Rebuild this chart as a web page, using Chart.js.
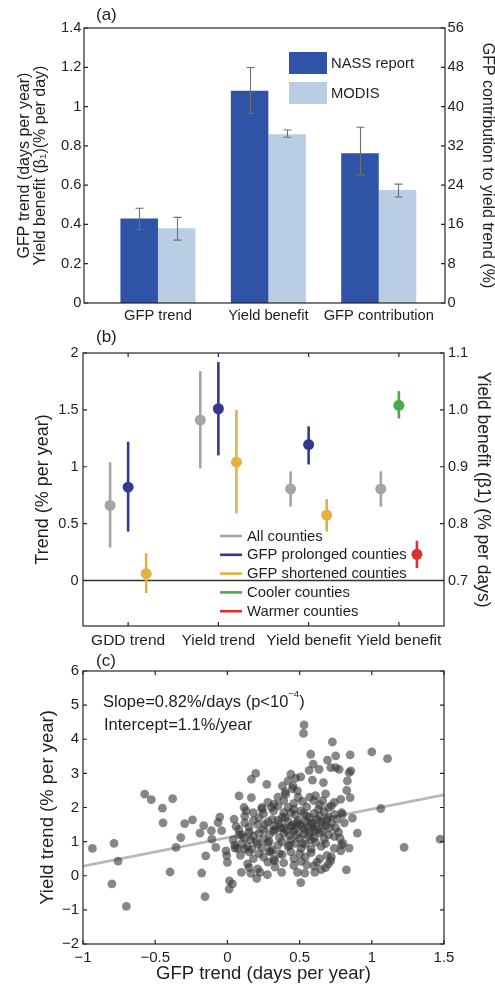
<!DOCTYPE html>
<html><head><meta charset="utf-8">
<script src="https://cdn.jsdelivr.net/npm/chart.js@4.4.1/dist/chart.umd.min.js"></script>
<style>
html,body{margin:0;padding:0;background:#fff;}
body{width:495px;height:986px;position:relative;overflow:hidden;}
.p{position:absolute;left:0;width:495px;}
.p canvas{display:block;}
</style></head><body>
<div class="p" style="top:0;height:335px"><canvas id="ca" width="495" height="335"></canvas></div>
<div class="p" style="top:325px;height:335px"><canvas id="cb" width="495" height="335"></canvas></div>
<div class="p" style="top:650px;height:336px"><canvas id="cc" width="495" height="336"></canvas></div>
<script>
// ---------------- DATA ----------------
// Panel (a)
const catA = ['GFP trend', 'Yield benefit', 'GFP contribution'];
const onRightA = [false, false, true];           // GFP contribution is read on right axis (%)
const nassA = [0.43, 1.08, 30.5];
const nassLowA = [0.374, 0.966, 26.1];
const nassHighA = [0.482, 1.199, 35.8];
const modisA = [0.38, 0.859, 23.0];
const modisLowA = [0.32, 0.844, 21.6];
const modisHighA = [0.436, 0.881, 24.2];
const leftTicksA = [0, 0.2, 0.4, 0.6, 0.8, 1, 1.2, 1.4];
const rightTicksA = [0, 8, 16, 24, 32, 40, 48, 56];

// Panel (b)
const catB = ['GDD trend', 'Yield trend', 'Yield benefit', 'Yield benefit'];
const axisB = ['y', 'y', 'y2', 'y2'];            // groups 3,4 read on right axis
const allVal = [0.66, 1.41, 0.861, 0.861];
const allLo = [0.29, 0.985, 0.83, 0.83];
const allHi = [1.04, 1.84, 0.892, 0.892];
const prolVal = [0.82, 1.51, 0.939, null];
const prolLo = [0.43, 1.10, 0.904, null];
const prolHi = [1.22, 1.92, 0.971, null];
const shortVal = [0.06, 1.04, 0.815, null];
const shortLo = [-0.11, 0.59, 0.786, null];
const shortHi = [0.24, 1.50, 0.843, null];
const coolVal = [null, null, null, 1.008];
const coolLo = [null, null, null, 0.985];
const coolHi = [null, null, null, 1.033];
const warmVal = [null, null, null, 0.746];
const warmLo = [null, null, null, 0.722];
const warmHi = [null, null, null, 0.770];
const leftTicksB = [0, 0.5, 1, 1.5, 2];
const rightTicksB = [0.7, 0.8, 0.9, 1.0, 1.1];

// Panel (c): [GFP trend (days/yr), Yield trend (%/yr)] per county
const countyTrends = [
[-0.935,0.80],[-0.785,0.95],[-0.757,0.43],[-0.80,-0.24],[-0.70,-0.90],[-0.573,2.39],[-0.527,2.23],[-0.379,2.26],[-0.45,1.98],[-0.446,1.55],
[-0.397,0.11],[-0.356,0.83],[-0.323,1.12],[-0.296,1.53],[-0.242,1.64],[-0.178,0.08],[-0.164,1.47],[-0.15,0.58],[-0.155,-0.61],[-0.19,1.25],
[-0.111,1.32],[-0.108,1.07],[-0.053,1.72],[-0.065,1.56],[-0.08,0.83],[-0.04,1.32],[-0.005,0.59],[0.0,0.39],[0.014,-0.15],[0.035,-0.24],
[0.012,-0.39],[-0.01,0.73],[0.046,1.66],[0.053,0.81],[0.081,2.34],[0.097,0.10],[0.115,2.0],[0.13,1.9],[0.15,0.24],[0.162,0.07],
[0.166,2.29],[0.166,2.83],[0.196,3.0],[0.203,-0.08],[0.226,0.10],[0.238,2.0],[0.273,2.68],[0.277,0.03],[0.305,2.0],[0.323,2.1],
[0.328,0.44],[0.376,0.10],[0.381,2.63],[0.404,2.39],[0.42,2.78],[0.439,2.98],[0.455,2.63],[0.473,2.86],[0.485,2.49],[0.508,2.9],
[0.531,4.42],[0.527,4.17],[0.508,-0.20],[0.536,0.08],[0.485,0.10],[0.577,3.56],[0.566,3.09],[0.594,3.27],[0.589,2.8],[0.635,3.12],
[0.665,2.73],[0.60,0.29],[0.605,0.10],[0.727,3.92],[0.693,3.39],[0.75,3.51],[0.716,3.17],[0.75,3.17],[0.774,3.12],[0.85,3.54],
[0.843,3.02],[0.855,3.07],[0.831,2.78],[0.827,2.5],[0.85,2.29],[0.785,2.24],[0.866,1.69],[0.90,1.25],[0.797,1.8],[0.843,0.81],
[0.824,0.17],[0.785,0.73],[0.716,0.44],[0.68,0.24],[1.0,3.63],[1.109,3.43],[1.062,1.97],[1.224,0.83],[1.473,1.07],
[0.28,2.15],[0.35,2.05],[0.39,2.2],[0.42,2.0],[0.46,2.12],[0.52,2.18],[0.55,2.02],[0.60,2.2],[0.64,2.08],[0.66,2.2],[0.70,2.0],[0.74,2.15],
[0.12,1.75],[0.18,1.85],[0.22,1.7],[0.25,1.82],[0.32,1.9],[0.38,1.72],[0.44,1.85],[0.47,1.78],[0.51,1.9],[0.57,1.7],[0.60,1.83],[0.64,1.75],[0.67,1.88],[0.70,1.72],[0.74,1.8],[0.79,1.85],
[0.06,1.45],[0.12,1.55],[0.15,1.42],[0.21,1.5],[0.28,1.58],[0.32,1.45],[0.36,1.52],[0.39,1.4],[0.42,1.6],[0.45,1.48],[0.48,1.55],[0.52,1.42],[0.54,1.6],[0.58,1.5],[0.61,1.44],[0.65,1.58],[0.68,1.47],[0.72,1.55],[0.75,1.4],
[0.08,1.2],[0.12,1.1],[0.15,1.28],[0.18,1.15],[0.22,1.25],[0.25,1.08],[0.29,1.2],[0.32,1.3],[0.36,1.12],[0.39,1.25],[0.43,1.18],[0.46,1.3],[0.50,1.1],[0.53,1.22],[0.57,1.28],[0.60,1.12],[0.64,1.25],[0.67,1.08],[0.70,1.2],[0.74,1.15],[0.77,1.28],
[0.05,0.9],[0.07,0.8],[0.10,0.95],[0.14,0.85],[0.17,0.78],[0.21,0.92],[0.24,0.82],[0.28,0.97],[0.31,0.76],[0.35,0.9],[0.42,0.85],[0.47,0.95],[0.51,0.8],[0.54,0.92],[0.58,0.78],[0.61,0.98],[0.65,0.86],[0.68,0.94],[0.74,0.8],[0.79,0.9],
[0.09,0.6],[0.15,0.7],[0.18,0.5],[0.22,0.65],[0.25,0.55],[0.29,0.72],[0.32,0.48],[0.38,0.62],[0.44,0.7],[0.46,0.5],[0.50,0.65],[0.54,0.55],[0.58,0.68],[0.64,0.5],[0.69,0.6],
[0.14,0.35],[0.21,0.2],[0.28,0.4],[0.33,0.25],[0.39,0.38],[0.46,0.3],[0.51,0.42],[0.65,0.18],[0.70,0.35],
[0.33,1.35],[0.37,1.4],[0.41,1.32],[0.44,1.45],[0.47,1.38],[0.5,1.5],[0.53,1.35],[0.56,1.42],[0.59,1.55],[0.62,1.35],[0.66,1.5],[0.69,1.65],
[0.35,1.62],[0.4,1.7],[0.55,1.75],[0.62,1.65],[0.48,1.2],[0.58,1.05],[0.52,0.95],[0.44,1.05],[0.2,1.0],[0.16,1.05],[0.1,1.2],[0.25,1.35],
[0.29,1.0],[0.63,1.95],[0.57,2.3],[0.61,2.35],[0.49,2.3],[0.45,2.55],[0.4,2.45],[0.35,2.3],[0.68,2.4],[0.72,2.05],[0.76,1.65],[0.81,1.55],
[0.78,1.1],[0.8,0.95],[0.72,0.55],[0.62,0.4],[0.55,0.32],[0.3,0.7],[0.36,0.65],[0.12,0.78],[0.08,1.35],[0.04,1.05],[0.18,1.62],[0.26,1.5],
[0.24,1.95],[0.66,1.3],[0.71,1.4],[0.43,0.9],[0.38,1.0],[0.56,1.15],[0.6,1.3],[0.49,1.62],[0.53,1.82],[0.46,1.95],[0.39,1.85],[0.31,1.65]
];
const fitLineX = [-1, 1.5];
const fitLineY = [0.28, 2.37];
const xTicksC = [-1, -0.5, 0, 0.5, 1, 1.5];
const yTicksC = [-2, -1, 0, 1, 2, 3, 4, 5, 6];

// ---------------- HELPERS ----------------
const FONT = "'Liberation Sans', Arial, Helvetica, sans-serif";
Chart.defaults.font.family = FONT;
Chart.defaults.color = '#1e1e1e';
Chart.defaults.animation = false;
const minus = v => (v < 0 ? '\u2212' + Math.abs(v) : String(v));
const setTicks = arr => (s) => { s.ticks = arr.map(v => ({value: v})); };
const noGrid = {display: false, drawTicks: false, offset: false};
const noBorder = {display: false};

const framePlugin = {
  id: 'frame',
  afterDraw(chart, args, o) {
    const {ctx, chartArea: a} = chart;
    const tl = o.tick || 4;
    ctx.save();
    ctx.strokeStyle = '#262626';
    ctx.lineWidth = 1.2;
    ctx.beginPath();
    ['left', 'right'].forEach(side => {
      const id = o[side]; if (!id) return;
      const sc = chart.scales[id];
      sc.ticks.forEach(t => {
        const py = sc.getPixelForValue(t.value);
        if (py < a.top - 1 || py > a.bottom + 1) return;
        const x0 = side === 'left' ? a.left : a.right;
        ctx.moveTo(x0, py); ctx.lineTo(x0 + (side === 'left' ? tl : -tl), py);
      });
    });
    ['top', 'bottom'].forEach(side => {
      const id = o[side]; if (!id) return;
      const sc = chart.scales[id];
      sc.ticks.forEach(t => {
        const px = sc.getPixelForValue(t.value);
        if (px < a.left - 1 || px > a.right + 1) return;
        const y0 = side === 'top' ? a.top : a.bottom;
        ctx.moveTo(px, y0); ctx.lineTo(px, y0 + (side === 'top' ? tl : -tl));
      });
    });
    ctx.stroke();
    ctx.strokeRect(a.left, a.top, a.right - a.left, a.bottom - a.top);
    ctx.restore();
  }
};

const textPlugin = {
  id: 'texts',
  afterDraw(chart, args, o) {
    const ctx = chart.ctx;
    ctx.save();
    ctx.fillStyle = '#1e1e1e';
    ctx.textBaseline = 'middle';
    (o.items || []).forEach(it => {
      let x = it.x;
      (it.parts || [{t: it.t}]).forEach(p => {
        const size = p.size || it.size;
        ctx.font = size + 'px ' + FONT;
        ctx.textAlign = 'left';
        ctx.fillText(p.t, x, it.y + (p.dy || 0));
        x += ctx.measureText(p.t).width + (p.gap || 0);
      });
    });
    ctx.restore();
  }
};

// ---------------- PANEL (a) ----------------
const ratioA = leftTicksA[leftTicksA.length - 1] / rightTicksA[rightTicksA.length - 1];
const toLeftA = (v, i) => (onRightA[i] ? v * ratioA : v);

const errAPlugin = {
  id: 'errA',
  afterDatasetsDraw(chart) {
    const {ctx} = chart; const y = chart.scales.y;
    ctx.save(); ctx.strokeStyle = '#707070'; ctx.lineWidth = 1.1;
    chart.data.datasets.forEach((ds, di) => {
      const meta = chart.getDatasetMeta(di);
      ds.errLow.forEach((lo, i) => {
        const el = meta.data[i]; if (!el) return;
        const x = Math.round(el.x) + 0.5;
        const y1 = y.getPixelForValue(toLeftA(lo, i));
        const y2 = y.getPixelForValue(toLeftA(ds.errHigh[i], i));
        ctx.beginPath();
        ctx.moveTo(x, y1); ctx.lineTo(x, y2);
        ctx.moveTo(x - 4, y1); ctx.lineTo(x + 4, y1);
        ctx.moveTo(x - 4, y2); ctx.lineTo(x + 4, y2);
        ctx.stroke();
      });
    });
    ctx.restore();
  }
};

const legendAPlugin = {
  id: 'legA',
  afterDraw(chart) {
    const {ctx} = chart;
    ctx.save();
    const items = chart.data.datasets;
    items.forEach((ds, i) => {
      const y = 52 + i * 30;
      ctx.fillStyle = ds.backgroundColor;
      ctx.fillRect(289, y, 38, 22);
      ctx.fillStyle = '#1e1e1e';
      ctx.font = '14.8px ' + FONT;
      ctx.textBaseline = 'middle';
      ctx.fillText(ds.label, 331, y + 11.5);
    });
    ctx.restore();
  }
};

new Chart(document.getElementById('ca'), {
  type: 'bar',
  data: {
    datasets: [
      {label: 'NASS report', data: catA.map((c, i) => ({x: i + 1, y: toLeftA(nassA[i], i)})),
       errLow: nassLowA, errHigh: nassHighA, backgroundColor: '#2f53a6', barPercentage: 1, categoryPercentage: 0.68},
      {label: 'MODIS', data: catA.map((c, i) => ({x: i + 1, y: toLeftA(modisA[i], i)})),
       errLow: modisLowA, errHigh: modisHighA, backgroundColor: '#b9cde5', barPercentage: 1, categoryPercentage: 0.68}
    ]
  },
  options: {
    responsive: false, animation: false,
    layout: {padding: {top: 28, right: 0, bottom: 0, left: 0}},
    plugins: {legend: {display: false}, tooltip: {enabled: false},
      frame: {left: 'y', right: 'y2', tick: 4},
      texts: {items: [{t: '(a)', x: 96, y: 15, size: 17}]}},
    scales: {
      x: {type: 'linear', offset: false, min: 0.33, max: 3.6, afterBuildTicks: setTicks(catA.map((c, i) => i + 1)),
          ticks: {callback: v => catA[v - 1], font: {size: 14.7}, padding: 4, maxRotation: 0, autoSkip: false},
          grid: noGrid, border: noBorder, afterFit: s => { s.height = 32; }},
      y: {position: 'left', min: 0, max: 1.4, afterBuildTicks: setTicks(leftTicksA),
          ticks: {callback: v => String(Math.round(v * 10) / 10), font: {size: 14.7}, padding: 2.5},
          grid: noGrid, border: noBorder,
          title: {display: true, text: ['GFP trend (days per year)', 'Yield benefit (\u03b2\u2081)(% per day)'],
                  font: {size: 16, lineHeight: 1}, padding: {top: 17, bottom: 0}},
          afterFit: s => { s.width = 84; }},
      y2: {position: 'right', min: 0, max: 56, afterBuildTicks: setTicks(rightTicksA),
          ticks: {callback: v => String(v), font: {size: 14.7}, padding: 2.5},
          grid: noGrid, border: noBorder,
          title: {display: true, text: 'GFP contribution to yield trend (%)', font: {size: 16, lineHeight: 1}, padding: {top: 0, bottom: 0}},
          afterFit: s => { s.width = 50; }}
    }
  },
  plugins: [errAPlugin, framePlugin, legendAPlugin, textPlugin]
});

// ---------------- PANEL (b) ----------------
const seriesB = [
  {name: 'All counties', color: '#a5a5a5', slot: [-1, -1, -1, -1], v: allVal, lo: allLo, hi: allHi},
  {name: 'GFP prolonged counties', color: '#333a8d', slot: [0, 0, 0, 0], v: prolVal, lo: prolLo, hi: prolHi},
  {name: 'GFP shortened counties', color: '#e4b23c', slot: [1, 1, 1, 1], v: shortVal, lo: shortLo, hi: shortHi},
  {name: 'Cooler counties', color: '#4caa4c', slot: [0, 0, 0, 0], v: coolVal, lo: coolLo, hi: coolHi},
  {name: 'Warmer counties', color: '#da3030', slot: [1, 1, 1, 1], v: warmVal, lo: warmLo, hi: warmHi}
];
const SLOT = 0.2;
const datasetsB = [];
seriesB.forEach(s => {
  ['y', 'y2'].forEach(ax => {
    const pts = [];
    s.v.forEach((val, g) => {
      if (val === null || axisB[g] !== ax) return;
      pts.push({x: g + 1 + s.slot[g] * SLOT, y: val, lo: s.lo[g], hi: s.hi[g]});
    });
    if (pts.length) datasetsB.push({label: s.name, data: pts, yAxisID: ax, backgroundColor: s.color,
      errColor: s.color, pointRadius: 5.5, pointHoverRadius: 5.5, borderWidth: 0});
  });
});

const errBPlugin = {
  id: 'errB',
  beforeDatasetsDraw(chart) {
    const {ctx, chartArea: a} = chart;
    ctx.save();
    const y0 = chart.scales.y.getPixelForValue(0);
    ctx.strokeStyle = '#333'; ctx.lineWidth = 1.3;
    ctx.beginPath(); ctx.moveTo(a.left, y0); ctx.lineTo(a.right, y0); ctx.stroke();
    ctx.lineWidth = 2.6; ctx.lineCap = 'butt';
    chart.data.datasets.forEach((ds, di) => {
      const meta = chart.getDatasetMeta(di);
      const sc = chart.scales[ds.yAxisID];
      ds.data.forEach((p, i) => {
        const el = meta.data[i]; if (!el) return;
        ctx.strokeStyle = ds.errColor;
        ctx.beginPath();
        ctx.moveTo(el.x, sc.getPixelForValue(p.lo));
        ctx.lineTo(el.x, sc.getPixelForValue(p.hi));
        ctx.stroke();
      });
    });
    ctx.restore();
  }
};

const legendBPlugin = {
  id: 'legB',
  afterDraw(chart) {
    const {ctx} = chart;
    ctx.save();
    seriesB.forEach((s, i) => {
      const y = 211 + i * 18.8;
      ctx.strokeStyle = s.color; ctx.lineWidth = 2.6;
      ctx.beginPath(); ctx.moveTo(220, y); ctx.lineTo(242, y); ctx.stroke();
      ctx.fillStyle = '#1e1e1e';
      ctx.font = '14.8px ' + FONT;
      ctx.textBaseline = 'middle';
      ctx.fillText(s.name, 247, y + 0.5);
    });
    ctx.restore();
  }
};

new Chart(document.getElementById('cb'), {
  type: 'scatter',
  data: {datasets: datasetsB},
  options: {
    responsive: false, animation: false,
    layout: {padding: {top: 28, right: 0, bottom: 0, left: 0}},
    plugins: {legend: {display: false}, tooltip: {enabled: false},
      frame: {left: 'y', right: 'y2', top: 'x', bottom: 'x', tick: 4},
      texts: {items: [{t: '(b)', x: 96, y: 12, size: 17}]}},
    scales: {
      x: {type: 'linear', offset: false, min: 0.5, max: 4.5, afterBuildTicks: setTicks(catB.map((c, i) => i + 1)),
          ticks: {callback: v => catB[v - 1], font: {size: 15.5}, padding: 5, maxRotation: 0, autoSkip: false},
          grid: noGrid, border: noBorder, afterFit: s => { s.height = 34; }},
      y: {position: 'left', min: -0.4, max: 2, afterBuildTicks: setTicks(leftTicksB),
          ticks: {callback: v => String(v), font: {size: 14.5}, padding: 4.5},
          grid: noGrid, border: noBorder,
          title: {display: true, text: 'Trend (% per year)', font: {size: 18, lineHeight: 1}, padding: {top: 34, bottom: 0}},
          afterFit: s => { s.width = 83; }},
      y2: {position: 'right', min: 0.62, max: 1.1, afterBuildTicks: setTicks(rightTicksB),
          ticks: {callback: v => v.toFixed(1), font: {size: 14.5}, padding: 4},
          grid: noGrid, border: noBorder,
          title: {display: true, text: 'Yield benefit (\u03b21) (% per days)', font: {size: 17.5, lineHeight: 1}, padding: {top: 3, bottom: 0}},
          afterFit: s => { s.width = 51; }}
    }
  },
  plugins: [errBPlugin, framePlugin, legendBPlugin, textPlugin]
});

// ---------------- PANEL (c) ----------------
new Chart(document.getElementById('cc'), {
  type: 'scatter',
  data: {
    datasets: [
      {type: 'line', label: 'fit', data: fitLineX.map((x, i) => ({x: x, y: fitLineY[i]})),
       borderColor: '#b8b8b8', borderWidth: 2.6, pointRadius: 0, fill: false, order: 2},
      {label: 'counties', data: countyTrends.map(p => ({x: p[0], y: p[1]})),
       backgroundColor: 'rgba(55,55,55,0.6)', borderWidth: 0, pointRadius: 4.4, pointHoverRadius: 4.4, order: 1}
    ]
  },
  options: {
    responsive: false, animation: false,
    layout: {padding: {top: 21, right: 51, bottom: 0, left: 0}},
    plugins: {legend: {display: false}, tooltip: {enabled: false},
      frame: {left: 'y', right: 'y', top: 'x', bottom: 'x', tick: 4},
      texts: {items: [
        {t: '(c)', x: 96, y: 11, size: 17},
        {x: 103, y: 52, size: 16.5, parts: [{t: 'Slope=0.82%/days (p<10'}, {t: '\u22124', size: 9.5, dy: -8}, {t: ')'}]},
        {t: 'Intercept=1.1%/year', x: 104, y: 75, size: 16.5}
      ]}},
    scales: {
      x: {type: 'linear', offset: false, min: -1, max: 1.5, afterBuildTicks: setTicks(xTicksC),
          ticks: {callback: v => minus(v), font: {size: 15}, padding: 5, maxRotation: 0, autoSkip: false},
          grid: noGrid, border: noBorder,
          title: {display: true, text: 'GFP trend (days per year)', font: {size: 18.5, lineHeight: 1}, padding: {top: 0, bottom: 2.5}},
          afterFit: s => { s.height = 42; }},
      y: {position: 'left', min: -2, max: 6, afterBuildTicks: setTicks(yTicksC),
          ticks: {callback: v => minus(v), font: {size: 15}, padding: 4},
          grid: noGrid, border: noBorder,
          title: {display: true, text: 'Yield trend (% per year)', font: {size: 18.5, lineHeight: 1}, padding: {top: 39, bottom: 0}},
          afterFit: s => { s.width = 83; }}
    }
  },
  plugins: [framePlugin, textPlugin]
});
</script>
</body></html>
